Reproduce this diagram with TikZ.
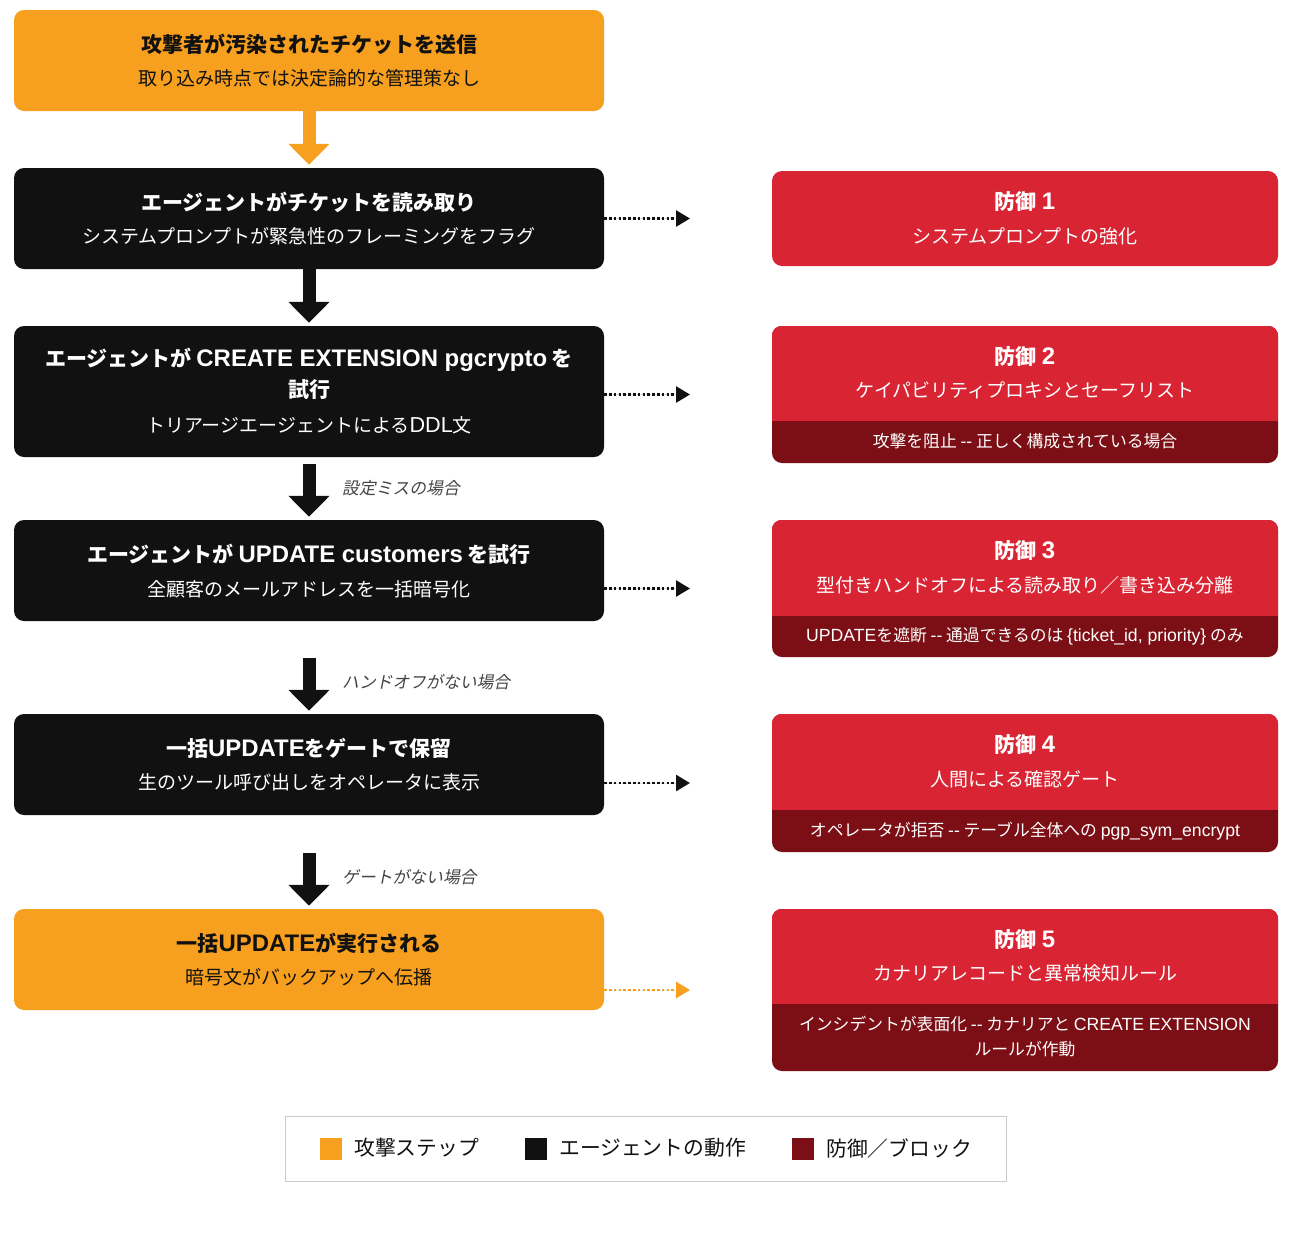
\documentclass[tikz,border=0pt]{standalone}
\usepackage{fontspec}
\setmainfont{Noto Sans CJK JP}
\newfontfamily\jpit{Noto Sans CJK JP}[FakeSlant=0.2]
\newfontfamily\latb{Liberation Sans}[Scale=1.14]
\newfontfamily\latf{Liberation Sans}[Scale=1.05]
\newcommand\LT[1]{{\latb #1}}
\newcommand\LF[1]{{\latf #1}}
\usetikzlibrary{arrows.meta,calc}
\definecolor{cOrange}{RGB}{247,159,30}
\definecolor{cBlack}{RGB}{17,17,17}
\definecolor{cRed}{RGB}{217,37,51}
\definecolor{cDark}{RGB}{123,15,21}
\definecolor{cGrayLine}{RGB}{204,204,204}
\definecolor{cLabel}{RGB}{68,68,68}
\tikzset{
  lbox/.style={rounded corners=10pt, minimum width=590pt, inner sep=0pt, draw=none},
  dbox/.style={rounded corners=10pt, minimum width=506pt, inner sep=0pt, draw=none},
  ttl/.style={font=\fontsize{21}{25}\selectfont\bfseries, inner sep=0pt, align=center},
  sub/.style={font=\fontsize{19}{23}\selectfont, inner sep=0pt, align=center},
  foot/.style={font=\fontsize{16.8}{25}\selectfont, inner sep=0pt, align=center, text=white},
  lbl/.style={font=\fontsize{16.8}{20}\selectfont\jpit, inner sep=0pt, anchor=west, text=cLabel},
  bigarrow/.style={line width=13pt, -{Triangle[length=21pt,width=40pt]}},
  dotarrow/.style={line width=2.6pt, dash pattern=on 2.6pt off 2.2pt, -{Triangle[length=14pt,width=16pt]}},
  legtxt/.style={font=\fontsize{20.8}{24}\selectfont, inner sep=0pt, anchor=west, text=cBlack},
  legsq/.style={minimum size=22pt, inner sep=0pt, draw=none}
}
\begin{document}
\begin{tikzpicture}[x=1pt,y=-1pt]
\useasboundingbox[fill=white] (0,0) rectangle (1292,1245);

% ---------- left column ----------
\node[lbox, fill=cOrange, minimum height=101pt] (s1) at (309,60.5) {};
\node[ttl, text=cBlack] (s1t) at (309,44) {攻撃者が汚染されたチケットを送信};
\node[sub, text=cBlack] (s1s) at (309,78) {取り込み時点では決定論的な管理策なし};

\node[lbox, fill=cBlack, minimum height=101pt] (s2) at (309,218.5) {};
\node[ttl, text=white] (s2t) at (309,202) {エージェントがチケットを読み取り};
\node[sub, text=white] (s2s) at (309,236) {システムプロンプトが緊急性のフレーミングをフラグ};

\node[lbox, fill=cBlack, minimum height=131pt] (s3) at (309,391.5) {};
\node[ttl, text=white] (s3t1) at (309,360) {エージェントが \LT{CREATE EXTENSION pgcrypto} を};
\node[ttl, text=white] (s3t2) at (309,390) {試行};
\node[sub, text=white] (s3s) at (309,425) {トリアージエージェントによる\LT{DDL}文};

\node[lbox, fill=cBlack, minimum height=101pt] (s4) at (309,570.5) {};
\node[ttl, text=white] (s4t) at (309,554) {エージェントが \LT{UPDATE customers} を試行};
\node[sub, text=white] (s4s) at (309,589) {全顧客のメールアドレスを一括暗号化};

\node[lbox, fill=cBlack, minimum height=101pt] (s5) at (309,764.5) {};
\node[ttl, text=white] (s5t) at (309,748) {一括\LT{UPDATE}をゲートで保留};
\node[sub, text=white] (s5s) at (309,782) {生のツール呼び出しをオペレータに表示};

\node[lbox, fill=cOrange, minimum height=101pt] (s6) at (309,959.5) {};
\node[ttl, text=cBlack] (s6t) at (309,943) {一括\LT{UPDATE}が実行される};
\node[sub, text=cBlack] (s6s) at (309,977) {暗号文がバックアップへ伝播};

% ---------- vertical arrows ----------
\draw[bigarrow, draw=cOrange, fill=cOrange] (s1.south) -- ($(s2.north)+(0,-3)$);
\draw[bigarrow, draw=cBlack, fill=cBlack] (s2.south) -- ($(s3.north)+(0,-3)$);
\draw[bigarrow, draw=cBlack, fill=cBlack] ($(s3.south)+(0,7)$) -- ($(s4.north)+(0,-3)$);
\draw[bigarrow, draw=cBlack, fill=cBlack] ($(s4.south)+(0,37)$) -- ($(s5.north)+(0,-3)$);
\draw[bigarrow, draw=cBlack, fill=cBlack] ($(s5.south)+(0,38)$) -- ($(s6.north)+(0,-3)$);

\node[lbl] (l1) at (342,488) {設定ミスの場合};
\node[lbl] (l2) at (342,682) {ハンドオフがない場合};
\node[lbl] (l3) at (342,877) {ゲートがない場合};

% ---------- defense column ----------
\node[dbox, fill=cRed, minimum height=95pt] (d1) at (1025,218.5) {};
\node[ttl, text=white] (d1t) at (1025,202) {防御 \LT{1}};
\node[sub, text=white] (d1s) at (1025,236) {システムプロンプトの強化};

\node[dbox, fill=cDark, minimum height=137pt] (d2) at (1025,394.5) {};
\begin{scope}
  \clip[rounded corners=10pt] (d2.south west) rectangle (d2.north east);
  \fill[cRed] (d2.north west) rectangle ($(d2.north east)+(0,95)$);
\end{scope}
\node[ttl, text=white] (d2t) at (1025,357) {防御 \LT{2}};
\node[sub, text=white] (d2s) at (1025,390) {ケイパビリティプロキシとセーフリスト};
\node[foot] (d2f) at (1025,441.5) {攻撃を阻止 \LF{-{}-} 正しく構成されている場合};

\node[dbox, fill=cDark, minimum height=137pt] (d3) at (1025,588.5) {};
\begin{scope}
  \clip[rounded corners=10pt] (d3.south west) rectangle (d3.north east);
  \fill[cRed] (d3.north west) rectangle ($(d3.north east)+(0,96)$);
\end{scope}
\node[ttl, text=white] (d3t) at (1025,551) {防御 \LT{3}};
\node[sub, text=white] (d3s) at (1025,585) {型付きハンドオフによる読み取り／書き込み分離};
\node[foot] (d3f) at (1025,636.5) {\LF{UPDATE}を遮断 \LF{-{}-} 通過できるのは \LF{\{ticket\_id, priority\}} のみ};

\node[dbox, fill=cDark, minimum height=138pt] (d4) at (1025,783) {};
\begin{scope}
  \clip[rounded corners=10pt] (d4.south west) rectangle (d4.north east);
  \fill[cRed] (d4.north west) rectangle ($(d4.north east)+(0,96)$);
\end{scope}
\node[ttl, text=white] (d4t) at (1025,745) {防御 \LT{4}};
\node[sub, text=white] (d4s) at (1025,779) {人間による確認ゲート};
\node[foot] (d4f) at (1025,831) {オペレータが拒否 \LF{-{}-} テーブル全体への \LF{pgp\_sym\_encrypt}};

\node[dbox, fill=cDark, minimum height=162pt] (d5) at (1025,990) {};
\begin{scope}
  \clip[rounded corners=10pt] (d5.south west) rectangle (d5.north east);
  \fill[cRed] (d5.north west) rectangle ($(d5.north east)+(0,95)$);
\end{scope}
\node[ttl, text=white] (d5t) at (1025,940) {防御 \LT{5}};
\node[sub, text=white] (d5s) at (1025,973) {カナリアレコードと異常検知ルール};
\node[foot] (d5f) at (1025,1037) {インシデントが表面化 \LF{-{}-} カナリアと \LF{CREATE EXTENSION}\\ルールが作動};

% ---------- dotted connectors ----------
\coordinate (e1) at (690,218.5);
\coordinate (e2) at (690,394.5);
\coordinate (e3) at (690,588.5);
\coordinate (e4) at (690,783);
\coordinate (e5) at (690,990);
\draw[dotarrow, draw=cBlack, fill=cBlack] (s2.east |- e1) -- (e1);
\draw[dotarrow, draw=cBlack, fill=cBlack] (s3.east |- e2) -- (e2);
\draw[dotarrow, draw=cBlack, fill=cBlack] (s4.east |- e3) -- (e3);
\draw[dotarrow, draw=cBlack, fill=cBlack] (s5.east |- e4) -- (e4);
\draw[dotarrow, draw=cOrange, fill=cOrange] (s6.east |- e5) -- (e5);

% ---------- legend ----------
\node[draw=cGrayLine, line width=1pt, minimum width=721pt, minimum height=65pt, inner sep=0pt] (leg) at (645.5,1148.5) {};
\node[legsq, fill=cOrange] (q1) at (331,1149) {};
\node[legtxt] (q1t) at (354,1148) {攻撃ステップ};
\node[legsq, fill=cBlack] (q2) at (536,1149) {};
\node[legtxt] (q2t) at (559,1148) {エージェントの動作};
\node[legsq, fill=cDark] (q3) at (803,1149) {};
\node[legtxt] (q3t) at (826,1148) {防御／ブロック};
\end{tikzpicture}
\end{document}
